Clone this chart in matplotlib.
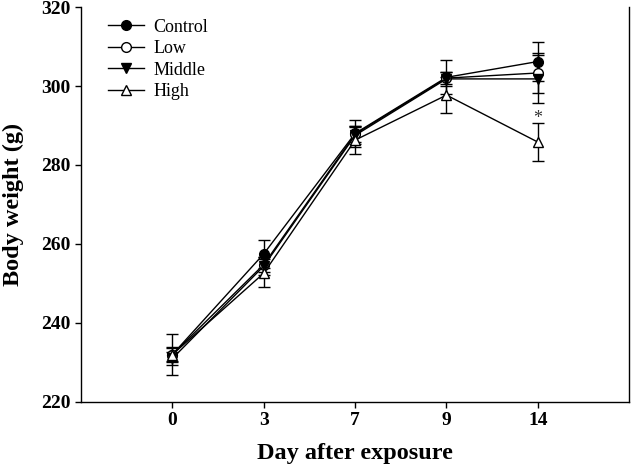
import matplotlib
matplotlib.use("Agg")
import matplotlib.pyplot as plt
from matplotlib.lines import Line2D

days = ["0", "3", "7", "9", "14"]

control = [232.0, 257.5, 288.0, 302.2, 306.2]
control_err = [5.2, 3.5, 3.5, 4.3, 5.0]

low = [232.0, 254.8, 287.8, 302.0, 303.3]
low_err = [1.6, 2.0, 2.0, 1.5, 5.0]

middle = [231.0, 254.4, 287.5, 301.8, 301.8]
middle_err = [1.7, 2.2, 2.2, 1.8, 6.0]

high = [232.0, 252.6, 286.3, 297.7, 285.8]
high_err = [1.8, 3.5, 3.6, 4.6, 4.8]

plt.rcParams["font.family"] = ["Liberation Serif", "DejaVu Serif"]

fig = plt.figure(figsize=(6.33, 4.69), dpi=100)
ax = fig.add_axes([0.128, 0.143, 0.866, 0.842])

x = list(range(len(days)))
series = [
    ("Control", control, control_err, "o", "black"),
    ("Low", low, low_err, "o", "white"),
    ("Middle", middle, middle_err, "v", "black"),
    ("High", high, high_err, "^", "white"),
]
handles = []
for name, vals, err, mk, fc in series:
    ax.errorbar(x, vals, yerr=err, color="black", lw=1.0, marker=mk,
                markersize=7, markerfacecolor=fc, markeredgecolor="black",
                markeredgewidth=1.0, capsize=4.5, elinewidth=1.0,
                capthick=1.0)
    handles.append(Line2D([], [], color="black", lw=1.0, marker=mk,
                          markersize=7, markerfacecolor=fc,
                          markeredgecolor="black", label=name))

# significance mark
ax.text(4, 289.6, "*", ha="center", va="bottom", fontsize=13, color="#333333")

ax.set_xlim(-1, 5)
ax.set_ylim(220, 320)
ax.set_xticks(x)
ax.set_xticklabels(days)
ax.set_yticks(range(220, 321, 20))
for lab in ax.get_xticklabels() + ax.get_yticklabels():
    lab.set_fontweight("bold")
    lab.set_fontsize(14)
ax.tick_params(direction="out", length=4, width=1.0)
ax.spines["top"].set_visible(False)
for s in ["left", "bottom", "right"]:
    ax.spines[s].set_linewidth(1.0)

ax.set_xlabel("Day after exposure", fontsize=17.5, fontweight="bold", labelpad=10)
ax.set_ylabel("Body weight (g)", fontsize=17.5, fontweight="bold", labelpad=12)

ax.legend(handles=handles, loc="upper left", bbox_to_anchor=(0.02, 1.012),
          frameon=False, fontsize=13, handlelength=2.0, handletextpad=0.5,
          labelspacing=0.25)

fig.savefig("out.png", dpi=100)
